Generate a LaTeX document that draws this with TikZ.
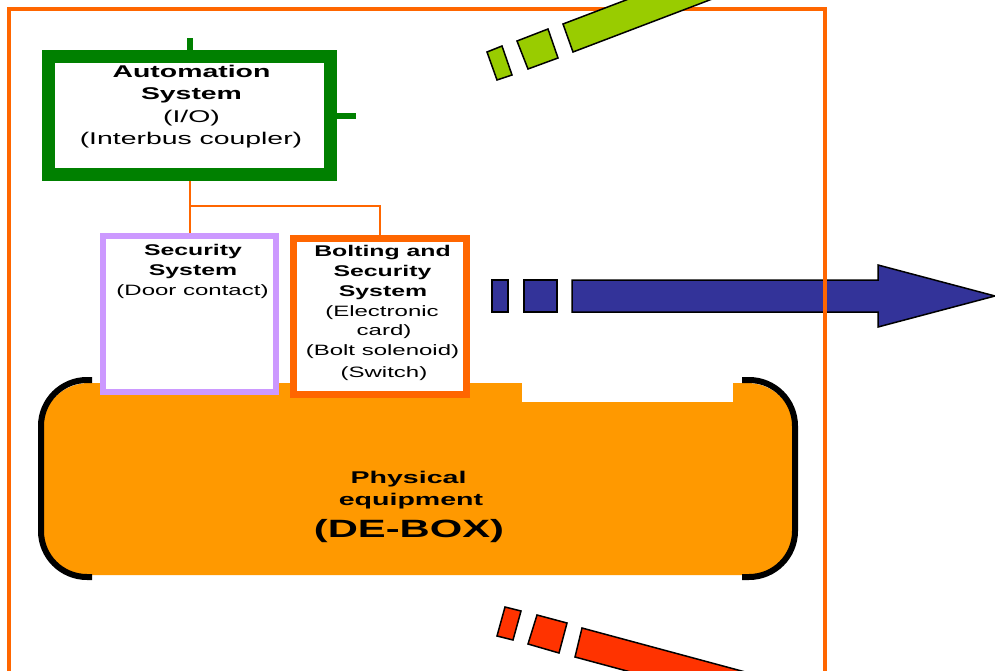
\documentclass[tikz,border=0pt]{standalone}
\usepackage{fontspec}
\setmainfont{Liberation Sans}
\newfontfamily\widefont[FakeStretch=1.6]{Liberation Sans}
\newfontfamily\wideafont[FakeStretch=1.67]{Liberation Sans}
\newfontfamily\widerfont[FakeStretch=1.68]{Liberation Sans}
\definecolor{frameor}{HTML}{FF6600}
\definecolor{autogreen}{HTML}{008000}
\definecolor{lav}{HTML}{CC99FF}
\definecolor{equip}{HTML}{FF9900}
\definecolor{arrblue}{HTML}{333399}
\definecolor{arrgreen}{HTML}{99CC00}
\definecolor{arrred}{HTML}{FF3300}
\tikzset{
  tb/.style={font=\wideafont\bfseries\fontsize{17}{21}\selectfont, anchor=base, inner sep=0pt},
  tr/.style={font=\wideafont\fontsize{17}{21}\selectfont, anchor=base, inner sep=0pt},
  sb/.style={font=\widefont\bfseries\fontsize{15.5}{19}\selectfont, anchor=base, inner sep=0pt},
  sr/.style={font=\widefont\fontsize{15}{19}\selectfont, anchor=base, inner sep=0pt},
  pb/.style={font=\widerfont\bfseries\fontsize{17}{21}\selectfont, anchor=base, inner sep=0pt},
  bigb/.style={font=\wideafont\bfseries\fontsize{25}{30}\selectfont, anchor=base, inner sep=0pt},
  abox/.style={draw=autogreen, line width=13pt, fill=white, minimum width=282pt, minimum height=118pt, inner sep=0pt},
  secbox/.style={draw=lav, line width=6pt, fill=white, minimum width=173pt, minimum height=156pt, inner sep=0pt},
  boltbox/.style={draw=frameor, line width=7pt, fill=white, minimum width=173pt, minimum height=156pt, inner sep=0pt},
  wire/.style={draw=frameor, line width=2pt},
  stub/.style={draw=autogreen, line width=6pt},
  blockarrow/.style={draw=black, line width=1.5pt, line join=miter},
  bracket/.style={draw=black, line width=6pt}
}
\begin{document}
\begin{tikzpicture}[x=1pt,y=-1pt]
\useasboundingbox (0,0) rectangle (995,671);
\clip (0,0) rectangle (995,671);
\fill[white] (0,0) rectangle (995,671);

% blue arrow (under the frame)
\filldraw[blockarrow, fill=arrblue] (492,280) rectangle (508,312);
\filldraw[blockarrow, fill=arrblue] (524,280) rectangle (557,312);
\filldraw[blockarrow, fill=arrblue] (572,280) -- (878,280) -- (878,265) -- (995,296) -- (878,327) -- (878,312) -- (572,312) -- cycle;

% outer frame
\draw[frameor, line width=4.5pt] (9,9) rectangle (825,720);

% green arrow (top)
\filldraw[blockarrow, fill=arrgreen] (487,52) -- (502,46) -- (512,75) -- (497,80) -- cycle;
\filldraw[blockarrow, fill=arrgreen] (517,41) -- (548,29) -- (558,58) -- (528,69) -- cycle;
\filldraw[blockarrow, fill=arrgreen] (563,24) -- (760,-51) -- (770,-23) -- (573,52) -- cycle;

% red arrow (bottom)
\filldraw[blockarrow, fill=arrred] (505,607) -- (521,611) -- (513,640) -- (497,636) -- cycle;
\filldraw[blockarrow, fill=arrred] (537,615) -- (567,623) -- (559,653) -- (528,644) -- cycle;
\filldraw[blockarrow, fill=arrred] (582,628) -- (775,680) -- (768,709) -- (575,657) -- cycle;

% physical equipment
\fill[equip, rounded corners=48pt] (41,383) rectangle (795,575);
\fill[white] (522,383) rectangle (733,402);
\draw[bracket, rounded corners=46pt] (92,380) -- (41,380) -- (41,577) -- (92,577);
\draw[bracket, rounded corners=46pt] (742,380) -- (795,380) -- (795,577) -- (742,577);

% boxes
\node[abox] (auto) at (189.5,115.5) {};
\node[secbox] (sec) at (189.5,314) {};
\node[boltbox] (bolt) at (380,316.5) {};

% stubs and wires
\coordinate (topstub) at (190,38);
\coordinate (rightstub) at (356,116);
\draw[stub] (auto.north -| topstub) -- (topstub);
\draw[stub] (auto.east |- rightstub) -- (rightstub);
\draw[wire] (auto.south) -- (sec.north);
\draw[wire] (auto.south) -- ++(0,25) -| (bolt.north);

% texts
\node[tb] (a1) at (191.5,78) {Automation};
\node[tb] (a2) at (191.5,100) {System};
\node[tr] (a3) at (191.5,123) {(I/O)};
\node[tr] (a4) at (191,145) {(Interbus coupler)};

\node[sb] (s1) at (193,255) {Security};
\node[sb] (s2) at (193,275) {System};
\node[sr] (s3) at (192.5,295) {(Door contact)};

\node[sb] (b1) at (382.5,256) {Bolting and};
\node[sb] (b2) at (382.5,276) {Security};
\node[sb] (b3) at (383,296) {System};
\node[sr] (b4) at (382,316) {(Electronic};
\node[sr] (b5) at (384,335) {card)};
\node[sr] (b6) at (382.5,355) {(Bolt solenoid)};
\node[sr] (b7) at (384,377) {(Switch)};

\node[pb] (p1) at (408.5,483) {Physical};
\node[pb] (p2) at (411,505) {equipment};
\node[bigb] (p3) at (409,537) {(DE-BOX)};
\end{tikzpicture}
\end{document}
